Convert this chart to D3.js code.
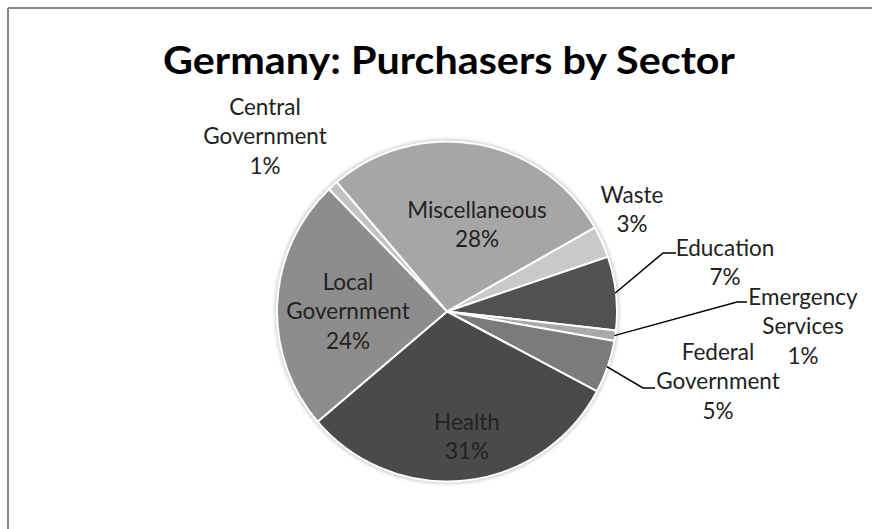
<!DOCTYPE html>
<html>
<head>
<meta charset="utf-8">
<script src="https://cdn.jsdelivr.net/npm/d3@7"></script>
<style>
  html, body { margin: 0; padding: 0; background: #fff; }
  svg { display: block; }
</style>
</head>
<body>
<svg id="chart" width="872" height="529"></svg>
<script>
// Sector shares (percent), clockwise from the Central Government wedge
const sectors = ["Central Government", "Miscellaneous", "Waste", "Education",
                 "Emergency Services", "Federal Government", "Health", "Local Government"];
const shares  = [1, 28, 3, 7, 1, 5, 31, 24];
const fills   = ["#c2c2c2", "#a6a6a6", "#c9c9c9", "#515151",
                 "#a9a9a9", "#7b7b7b", "#4a4a4a", "#8d8d8d"];
// Label text lines for each wedge (name part), percent is appended from the data
const labelLines = [["Central", "Government"], ["Miscellaneous"], ["Waste"], ["Education"],
                    ["Emergency", "Services"], ["Federal", "Government"], ["Health"],
                    ["Local", "Government"]];

const svg = d3.select("#chart");
const W = 872, H = 529;

// chart frame (top and left edges visible)
svg.append("line").attr("x1", 8).attr("y1", 8).attr("x2", W).attr("y2", 8)
  .attr("stroke", "#868686").attr("stroke-width", 2);
svg.append("line").attr("x1", 8).attr("y1", 8).attr("x2", 8).attr("y2", H)
  .attr("stroke", "#868686").attr("stroke-width", 2);

// title
svg.append("text")
  .attr("x", 449).attr("y", 74)
  .attr("text-anchor", "middle")
  .attr("textLength", 572)
  .attr("lengthAdjust", "spacingAndGlyphs")
  .style("font-family", "Lato, 'Open Sans', sans-serif")
  .style("font-weight", "bold")
  .style("font-size", "38px")
  .attr("fill", "#000")
  .text("Germany: Purchasers by Sector");

const cx = 447, cy = 311.5, R = 170;
const startDeg = -44;

const pie = d3.pie().sort(null).value(d => d)
  .startAngle(startDeg * Math.PI / 180)
  .endAngle((startDeg + 360) * Math.PI / 180);
const arcs = pie(shares);
const arc = d3.arc().innerRadius(0).outerRadius(R);

const defs = svg.append("defs");
defs.append("filter").attr("id", "soft").attr("x", "-20%").attr("y", "-20%")
  .attr("width", "140%").attr("height", "140%")
  .append("feGaussianBlur").attr("stdDeviation", 1.6);

const g = svg.append("g").attr("transform", `translate(${cx},${cy})`);

// faint halo round the pie
g.append("circle").attr("r", R + 1).attr("fill", "none")
  .attr("stroke", "#cfcfcf").attr("stroke-width", 3).attr("filter", "url(#soft)");

g.selectAll("path.slice").data(arcs).join("path")
  .attr("class", "slice")
  .attr("d", arc)
  .attr("fill", (d, i) => fills[i])
  .attr("stroke", "#ffffff")
  .attr("stroke-width", 2)
  .attr("stroke-linejoin", "round");

const fmt = v => d3.format(".0%")(v / d3.sum(shares));

// label centres (x) and first-line centre (y), line spacing
const labelPos = [
  [265, 107], [477, 210], [632, 195], [725, 248],
  [803, 297], [718, 352], [467, 422], [348, 282]
];
const lineGap = 29.5;

const labelFont = "Lato, 'Open Sans', sans-serif";
arcs.forEach((a, i) => {
  const lines = labelLines[i].concat([fmt(shares[i])]);
  const t = svg.append("text")
    .attr("text-anchor", "middle")
    .style("font-family", labelFont)
    .style("font-size", "22.5px")
    .attr("fill", "#222222");
  lines.forEach((s, k) => {
    t.append("tspan")
      .attr("x", labelPos[i][0])
      .attr("y", labelPos[i][1] + k * lineGap)
      .attr("dy", "0.35em")
      .text(s);
  });
});

// leader lines from wedge edge to the label
const leaders = {
  3: [[663, 253], [676, 253]],
  4: [[737, 302], [747, 302]],
  5: [[643, 388], [655, 388]]
};
Object.keys(leaders).forEach(k => {
  const a = arcs[+k];
  const mid = (a.startAngle + a.endAngle) / 2;
  const p0 = [cx + (R - 1) * Math.sin(mid), cy - (R - 1) * Math.cos(mid)];
  const pts = [p0].concat(leaders[k]);
  svg.append("path")
    .attr("d", d3.line()(pts))
    .attr("fill", "none")
    .attr("stroke", "#000")
    .attr("stroke-width", 1.5);
});
</script>
</body>
</html>
